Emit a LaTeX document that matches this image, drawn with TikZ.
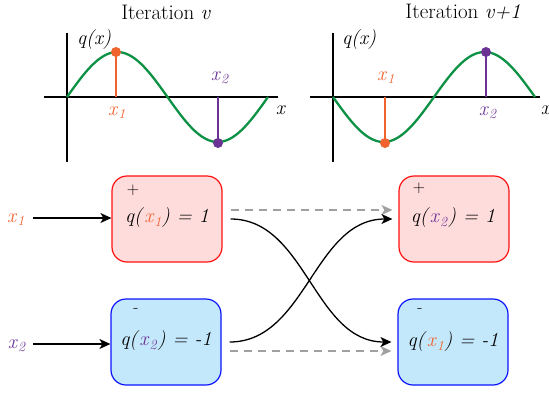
\documentclass[tikz,border=0pt]{standalone}
\usetikzlibrary{arrows.meta}
\definecolor{cor}{HTML}{F0622E}
\definecolor{cpu}{HTML}{6B3394}
\definecolor{cgr}{HTML}{0D9245}
\definecolor{pinkf}{HTML}{FFDCDC}
\definecolor{redl}{HTML}{FF1010}
\definecolor{bluef}{HTML}{C4E8FB}
\definecolor{bluel}{HTML}{0A14FF}
\definecolor{dgray}{HTML}{A0A0A0}
\newcommand{\xo}{{\color{cor}\textit{x}\textsubscript{\textit{1}}}}
\newcommand{\xt}{{\color{cpu}\textit{x}\textsubscript{\textit{2}}}}
\begin{document}
\begin{tikzpicture}[x=1pt,y=-1pt,
  axis/.style={line width=2.6pt},
  wave/.style={cgr,line width=2.3pt},
  stem/.style={line width=2.2pt},
  lbl/.style={font=\fontsize{20}{24}\selectfont,inner sep=0pt},
  ttl/.style={font=\fontsize{21}{25}\selectfont,inner sep=0pt},
  sgn/.style={font=\fontsize{17}{20}\selectfont,inner sep=0pt},
  box/.style={rounded corners=15pt,line width=1.2pt,minimum width=110pt,minimum height=86pt},
  posbox/.style={box,draw=redl,fill=pinkf},
  negbox/.style={box,draw=bluel,fill=bluef},
  arr/.style={-{Stealth[length=11pt,width=10pt,inset=3pt]},line width=1.3pt},
  darr/.style={-{Stealth[length=11pt,width=10pt,inset=3pt]},dgray,dash pattern=on 8pt off 6pt,line width=1.3pt},
]
\useasboundingbox (0,0) rectangle (549,392);
% ---------- left plot ----------
\node[ttl] (t1) at (166,12) {Iteration \textit{v}};
\draw[axis] (67,33) -- (67,162);
\draw[axis] (44,97) -- (278,97);
\node[lbl] (q1) at (94,40) {\textit{q(x)}};
\node[lbl] (xa1) at (281,110) {\textit{x}};
\draw[wave] plot[domain=0:360,samples=80] ({67+\x/360*201},{97-45*sin(\x)});
\coordinate (p1) at (116,52);
\coordinate (b1) at (116,97);
\draw[stem,cor] (b1) -- (p1);
\fill[cor] (p1) circle (5);
\coordinate (p2) at (218,143);
\coordinate (b2) at (218,97);
\draw[stem,cpu] (b2) -- (p2);
\fill[cpu] (p2) circle (5);
\node[lbl] (lx1) at (117,113) {\xo};
\node[lbl] (lx2) at (220,78) {\xt};
% ---------- right plot ----------
\node[ttl] (t2) at (463,12) {Iteration \textit{v+1}};
\draw[axis] (333,33) -- (333,162);
\draw[axis] (310,97) -- (540,97);
\node[lbl] (q2) at (359,40) {\textit{q(x)}};
\node[lbl] (xa2) at (546,110) {\textit{x}};
\draw[wave] plot[domain=0:360,samples=80] ({333+\x/360*202},{97+45*sin(\x)});
\coordinate (r1) at (385,143);
\coordinate (c1) at (385,97);
\draw[stem,cor] (c1) -- (r1);
\fill[cor] (r1) circle (5);
\coordinate (r2) at (486,52);
\coordinate (c2) at (486,97);
\draw[stem,cpu] (c2) -- (r2);
\fill[cpu] (r2) circle (5);
\node[lbl] (rx1) at (386,78) {\xo};
\node[lbl] (rx2) at (488,113) {\xt};
% ---------- boxes ----------
\node[posbox] (A) at (167,219) {};
\node[negbox] (B) at (166,342) {};
\node[posbox] (C) at (454,219) {};
\node[negbox] (D) at (453,342) {};
\node[lbl] at (167,218) {\textit{q(}\xo\textit{) = 1}};
\node[lbl] at (166,341) {\textit{q(}\xt\textit{) = -1}};
\node[lbl] at (453,218) {\textit{q(}\xt\textit{) = 1}};
\node[lbl] at (453,342) {\textit{q(}\xo\textit{) = -1}};
\node[sgn] (sA) at (133,190) {+};
\node[sgn] (sB) at (136,310) {-};
\node[sgn] (sC) at (419,188) {+};
\node[sgn] (sD) at (420,310) {-};
% ---------- inputs ----------
\node[lbl] (in1) at (16,220) {\xo};
\node[lbl] (in2) at (17,346) {\xt};
\draw[arr] ([xshift=-78pt,yshift=1pt]A.west) -- ([yshift=1pt]A.west);
\draw[arr] ([xshift=-77pt,yshift=-2pt]B.west) -- ([yshift=-2pt]B.west);
% ---------- connectors ----------
\draw[darr,shorten <=8pt,shorten >=6pt] ([yshift=9pt]A.east) -- ([yshift=9pt]C.west);
\draw[darr,shorten <=8pt,shorten >=6pt] ([yshift=-9pt]B.east) -- ([yshift=-9pt]D.west);
\draw[arr,shorten <=8pt,shorten >=6pt] (A.east) to[out=0,in=180] (D.west);
\draw[arr,shorten <=8pt,shorten >=6pt] (B.east) to[out=0,in=180] (C.west);
\end{tikzpicture}
\end{document}
